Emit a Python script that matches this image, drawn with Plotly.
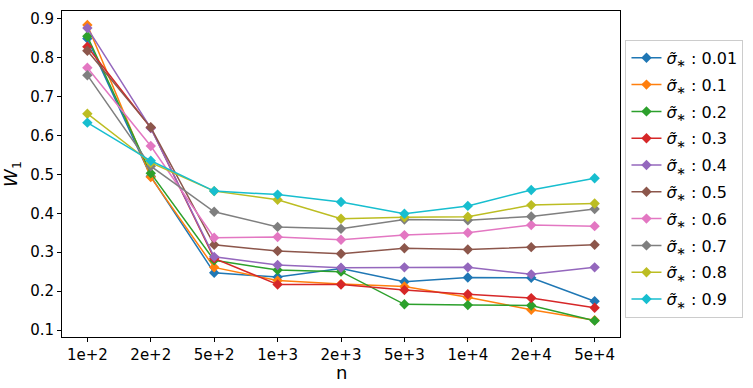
import plotly.graph_objects as go

# x categories (sample size n)
n_labels = ["1e+2", "2e+2", "5e+2", "1e+3", "2e+3", "5e+3", "1e+4", "2e+4", "5e+4"]

sigma_labels = ["0.01", "0.1", "0.2", "0.3", "0.4", "0.5", "0.6", "0.7", "0.8", "0.9"]

# W_1 distance per sigma
w_001 = [0.849, 0.495, 0.247, 0.236, 0.258, 0.224, 0.235, 0.234, 0.174]
w_01 = [0.884, 0.493, 0.261, 0.227, 0.218, 0.212, 0.184, 0.152, 0.125]
w_02 = [0.855, 0.503, 0.279, 0.254, 0.250, 0.166, 0.164, 0.163, 0.124]
w_03 = [0.828, 0.620, 0.284, 0.217, 0.217, 0.203, 0.192, 0.182, 0.157]
w_04 = [0.876, 0.619, 0.288, 0.267, 0.260, 0.261, 0.261, 0.243, 0.261]
w_05 = [0.818, 0.621, 0.319, 0.303, 0.296, 0.310, 0.307, 0.313, 0.319]
w_06 = [0.774, 0.573, 0.337, 0.339, 0.332, 0.344, 0.350, 0.370, 0.367]
w_07 = [0.755, 0.521, 0.404, 0.365, 0.360, 0.384, 0.382, 0.392, 0.411]
w_08 = [0.656, 0.530, 0.457, 0.435, 0.386, 0.390, 0.391, 0.421, 0.425]
w_09 = [0.633, 0.535, 0.457, 0.448, 0.429, 0.399, 0.419, 0.460, 0.490]

series = [w_001, w_01, w_02, w_03, w_04, w_05, w_06, w_07, w_08, w_09]

colors = ['#1f77b4', '#ff7f0e', '#2ca02c', '#d62728', '#9467bd',
          '#8c564b', '#e377c2', '#7f7f7f', '#bcbd22', '#17becf']

fig = go.Figure()

for lab, vals, c in zip(sigma_labels, series, colors):
    fig.add_trace(go.Scatter(
        x=list(range(len(n_labels))),
        y=vals,
        mode="lines+markers",
        name="<i>σ̃</i><sub>∗</sub> : " + lab,
        legendgroup=lab,  # one group per trace so tracegroupgap spaces rows
        line=dict(color=c, width=1.5),
        marker=dict(symbol="diamond", size=8, color=c),
    ))

axis_style = dict(
    showline=True, mirror=True, linecolor="black", linewidth=1,
    ticks="outside", ticklen=4, tickcolor="black",
    showgrid=False, zeroline=False, automargin=False,
    tickfont=dict(size=15, color="black"),
)

fig.update_xaxes(
    range=[-0.4, 8.4],
    tickmode="array",
    tickvals=list(range(len(n_labels))),
    ticktext=n_labels,
    **axis_style,
)
fig.update_yaxes(
    range=[0.082, 0.920],
    tickvals=[0.1, 0.2, 0.3, 0.4, 0.5, 0.6, 0.7, 0.8, 0.9],
    tickformat=".1f",
    title=dict(text="<i>W</i><sub>1</sub>", font=dict(size=18, color="black"), standoff=8),
    **axis_style,
)

# x-axis title placed by hand
fig.add_annotation(
    text="n", xref="paper", yref="paper", x=0.5, y=0,
    yanchor="middle", yshift=-35, showarrow=False,
    font=dict(size=18, color="black"),
)

fig.update_layout(
    width=753, height=388,
    margin=dict(l=62, r=132, t=11, b=51),
    paper_bgcolor="white",
    plot_bgcolor="white",
    font=dict(family="DejaVu Sans", color="black"),
    legend=dict(
        x=1.008, y=0.485, xanchor="left", yanchor="middle",
        bordercolor="#cccccc", borderwidth=1,
        font=dict(size=16, color="black"),
        tracegroupgap=3,
        itemwidth=30,
    ),
)

# drop the browser's default 8px body margin so the figure sits at (0, 0)
fig.write_html("out.html", config={"displayModeBar": False},
               post_script="document.body.style.margin='0';")
